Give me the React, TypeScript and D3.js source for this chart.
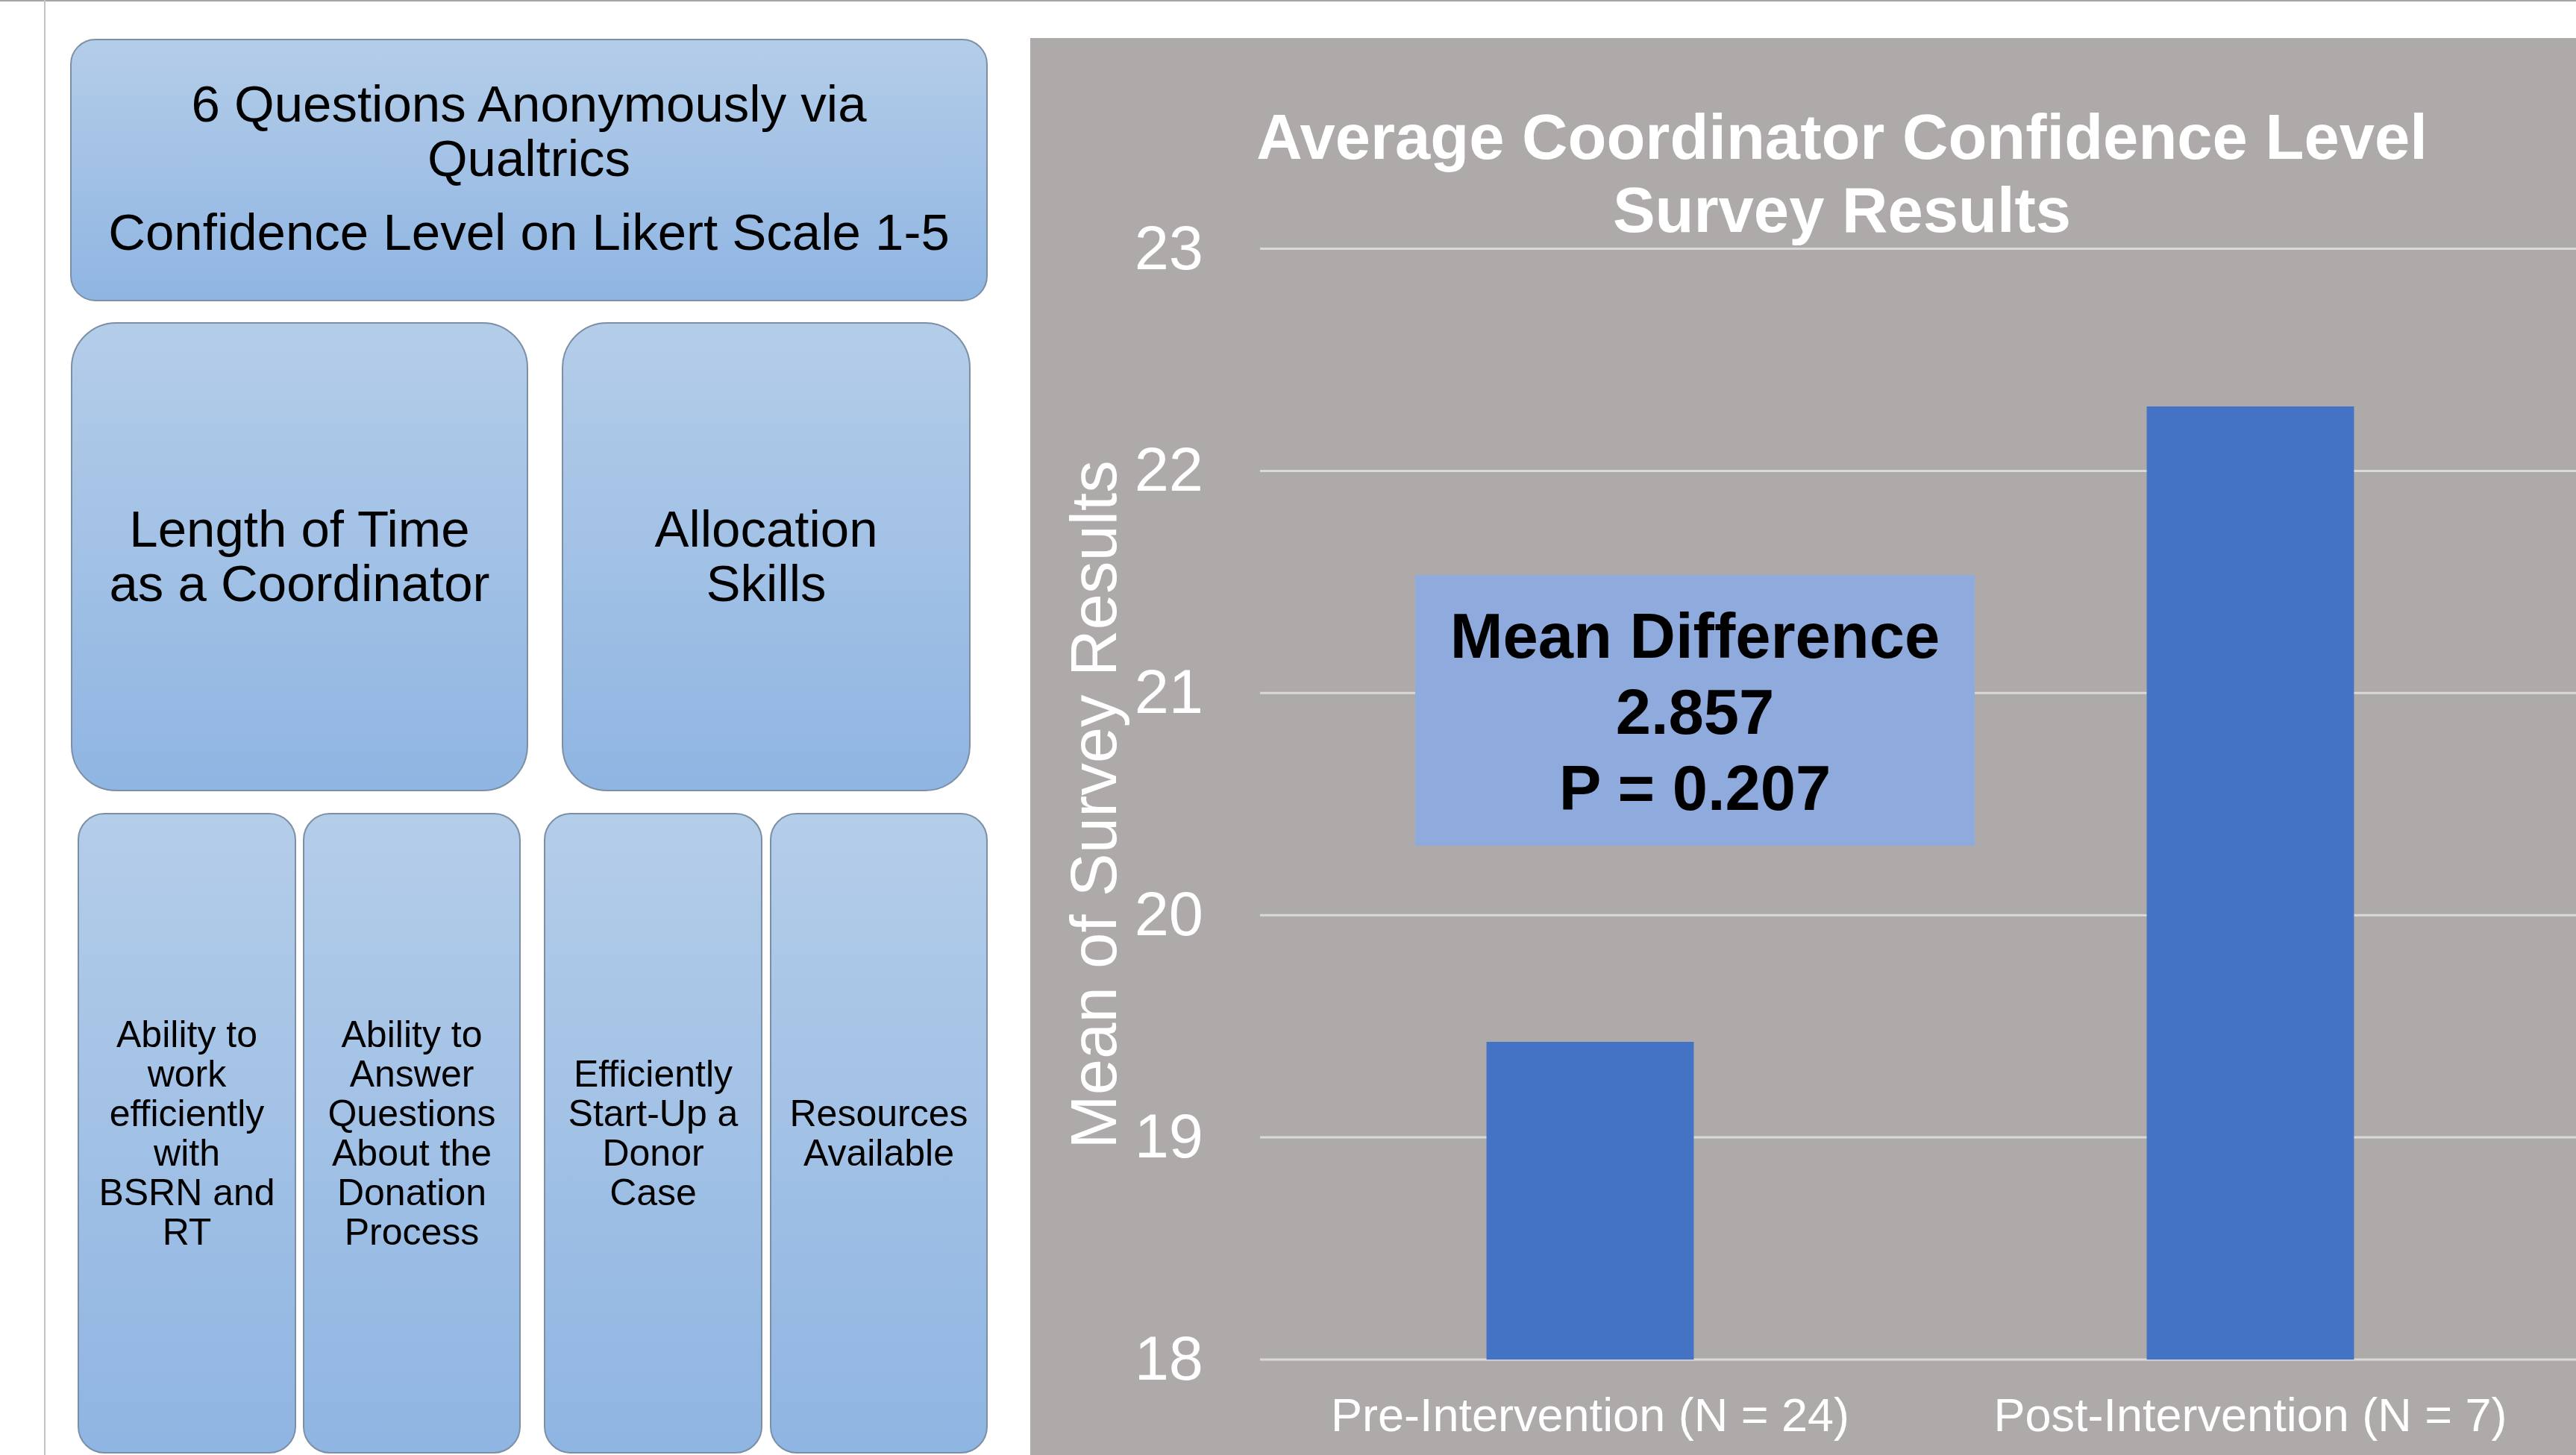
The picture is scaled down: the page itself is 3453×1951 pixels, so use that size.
import React, { useEffect } from 'react';
import * as d3 from 'd3';

// chart data
const categories = ['Pre-Intervention (N = 24)', 'Post-Intervention (N = 7)'];
const meanScores = [19.43, 22.29];
const yTicks = [18, 19, 20, 21, 22, 23];
const chartTitle = ['Average Coordinator Confidence Level', 'Survey Results'];
const yAxisTitle = 'Mean of Survey Results';
const annotationLines = ['Mean Difference', '2.857', 'P = 0.207'];

// diagram text on the left
const topBoxLines = ['6 Questions Anonymously via', 'Qualtrics'];
const topBoxSubline = 'Confidence Level on Likert Scale 1-5';
const midBoxes = [
  ['Length of Time', 'as a Coordinator'],
  ['Allocation', 'Skills'],
];
const lowBoxes = [
  ['Ability to', 'work', 'efficiently', 'with', 'BSRN and', 'RT'],
  ['Ability to', 'Answer', 'Questions', 'About the', 'Donation', 'Process'],
  ['Efficiently', 'Start-Up a', 'Donor', 'Case'],
  ['Resources', 'Available'],
];

const W = 3453;
const H = 1951;
const FONT = '"Liberation Sans", Arial, sans-serif';

function Box({ x, y, w, h, r, lines, fs, lh }) {
  const cy = y + h / 2;
  const first = cy - ((lines.length - 1) * lh) / 2 + fs * 0.33;
  return (
    <g>
      <rect x={x} y={y} width={w} height={h} rx={r} ry={r}
        fill="url(#boxGrad)" stroke="#7d8fa5" strokeWidth={2} />
      <text x={x + w / 2} textAnchor="middle" fontSize={fs} fill="#000">
        {lines.map((l, i) => (
          <tspan key={i} x={x + w / 2} y={first + i * lh}>{l}</tspan>
        ))}
      </text>
    </g>
  );
}

export default function App() {
  useEffect(() => {
    document.body.style.margin = '0';
    document.body.style.overflow = 'hidden';
  }, []);

  const y = d3.scaleLinear().domain([18, 23]).range([1823, 333.5]);
  const x = d3
    .scaleBand()
    .domain(categories)
    .range([1689, 3459])
    .paddingInner(0.686)
    .paddingOuter(0.343);

  const midPos = [
    { x: 96, w: 611 },
    { x: 754, w: 546 },
  ];
  const lowPos = [
    { x: 105, w: 291 },
    { x: 407, w: 290 },
    { x: 730, w: 291 },
    { x: 1033, w: 290 },
  ];

  return (
    <svg width={W} height={H} viewBox={`0 0 ${W} ${H}`}
      style={{ display: 'block', position: 'absolute', left: 0, top: 0 }}
      fontFamily={FONT}>
      <defs>
        <linearGradient id="boxGrad" x1="0" y1="0" x2="0" y2="1">
          <stop offset="0" stopColor="#b4cde9" />
          <stop offset="1" stopColor="#8fb5e2" />
        </linearGradient>
        <clipPath id="panelClip">
          <rect x={1381} y={51} width={W - 1381} height={H - 51} />
        </clipPath>
      </defs>

      <rect x={0} y={0} width={W} height={H} fill="#fff" />
      <line x1={0} x2={W} y1={1} y2={1} stroke="#a6a6a6" strokeWidth={2} />
      <line x1={60} x2={60} y1={0} y2={H} stroke="#c4c4c4" strokeWidth={2} />

      {/* left diagram */}
      <g>
        <rect x={95} y={53} width={1228} height={350} rx={33} ry={33}
          fill="url(#boxGrad)" stroke="#7d8fa5" strokeWidth={2} />
        <text textAnchor="middle" fontSize={69}>
          {topBoxLines.map((l, i) => (
            <tspan key={i} x={709} y={163 + i * 73}>{l}</tspan>
          ))}
          <tspan x={709} y={335}>{topBoxSubline}</tspan>
        </text>
      </g>
      {midBoxes.map((lines, i) => (
        <Box key={i} x={midPos[i].x} y={433} w={midPos[i].w} h={627} r={60}
          lines={lines} fs={69} lh={73} />
      ))}
      {lowBoxes.map((lines, i) => (
        <Box key={i} x={lowPos[i].x} y={1091} w={lowPos[i].w} h={857} r={35}
          lines={lines} fs={50} lh={53} />
      ))}

      {/* chart panel */}
      <rect x={1381} y={51} width={W - 1381} height={H - 51} fill="#aeaaaa" />
      <g clipPath="url(#panelClip)">
        {yTicks.map(t => (
          <line key={t} x1={1689} x2={W} y1={y(t)} y2={y(t)}
            stroke="#d9d9d9" strokeWidth={3} />
        ))}
        {categories.map((c, i) => (
          <rect key={c} x={x(c)} y={y(meanScores[i])}
            width={x.bandwidth()} height={y(18) - y(meanScores[i])}
            fill="#4472c4" />
        ))}
      </g>

      {yTicks.map(t => (
        <text key={t} x={1613} y={y(t) + 27} textAnchor="end"
          fontSize={83} fill="#fff">{t}</text>
      ))}

      {categories.map(c => (
        <text key={c} x={x(c) + x.bandwidth() / 2} y={1919}
          textAnchor="middle" fontSize={63} fill="#fff">{c}</text>
      ))}

      <text transform="translate(1496,1079) rotate(-90)" textAnchor="middle"
        fontSize={87} fill="#fff">{yAxisTitle}</text>

      <text textAnchor="middle" fontSize={85} fontWeight="bold" fill="#fff">
        {chartTitle.map((l, i) => (
          <tspan key={i} x={2469} y={213 + i * 98}>{l}</tspan>
        ))}
      </text>

      <rect x={1897} y={771} width={750} height={363} fill="#8faadc" />
      <text textAnchor="middle" fontSize={85} fontWeight="bold" fill="#000">
        {annotationLines.map((l, i) => (
          <tspan key={i} x={2272} y={882 + i * 102}>{l}</tspan>
        ))}
      </text>
    </svg>
  );
}
